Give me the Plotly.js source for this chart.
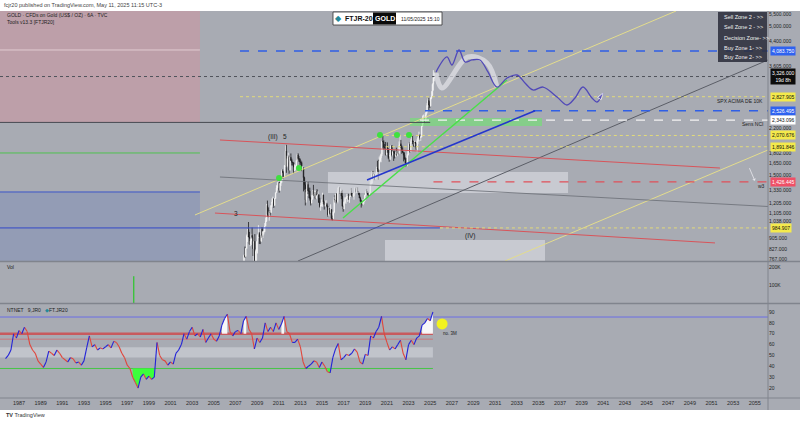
<!DOCTYPE html>
<html><head><meta charset="utf-8">
<script src="https://cdn.plot.ly/plotly-3.0.1.min.js"></script>
<style>html,body{margin:0;padding:0;background:#fff;}#chart{width:800px;height:422px;}</style>
</head><body><div id="chart"></div>
<script>
// ================= DATA =================
// Gold monthly closes / highs / lows, Jan 2006 .. May 2025
const goldFirstYear = 2006;
const goldClose = [
569,556,582,654,643,614,633,624,599,604,646,632,
650,669,662,680,659,650,666,673,743,789,783,834,
923,972,916,864,886,929,913,833,884,718,816,882,
928,942,916,884,979,927,955,955,1001,1040,1180,1096,
1081,1118,1113,1179,1213,1244,1181,1248,1307,1357,1386,1421,
1332,1410,1439,1556,1536,1500,1628,1826,1620,1722,1746,1565,
1738,1697,1669,1664,1561,1604,1614,1692,1773,1719,1713,1675,
1663,1578,1597,1476,1393,1234,1313,1396,1327,1323,1250,1202,
1240,1326,1284,1296,1250,1327,1282,1287,1210,1171,1182,1184,
1283,1213,1183,1184,1190,1172,1095,1134,1115,1142,1065,1061,
1118,1238,1233,1293,1215,1322,1351,1309,1316,1273,1173,1146,
1211,1249,1249,1268,1268,1242,1269,1322,1280,1271,1275,1303,
1345,1318,1325,1315,1299,1253,1224,1201,1192,1215,1222,1282,
1321,1313,1292,1284,1305,1409,1413,1520,1472,1513,1464,1517,
1589,1585,1577,1686,1730,1781,1975,1967,1886,1879,1776,1898,
1847,1734,1708,1769,1906,1770,1814,1813,1757,1783,1774,1829,
1796,1909,1937,1896,1837,1807,1766,1711,1660,1633,1768,1824,
1928,1827,1969,1990,1962,1919,1965,1940,1849,1983,2036,2063,
2039,2044,2230,2286,2327,2326,2447,2503,2635,2744,2643,2625,
2798,2858,3124,3288,3326];
const goldHigh = [
572,574,587,657,730,641,677,664,629,614,650,641,
655,690,670,693,693,671,684,679,745,795,848,838,
934,976,1033,954,903,940,988,920,920,937,828,884,
934,1007,952,929,983,991,961,964,1024,1070,1195,1227,
1162,1127,1137,1182,1249,1266,1245,1251,1310,1388,1424,1432,
1424,1415,1448,1576,1577,1552,1632,1913,1921,1760,1804,1764,
1764,1792,1718,1676,1666,1641,1631,1692,1788,1795,1755,1724,
1697,1680,1617,1598,1487,1424,1348,1434,1425,1361,1361,1267,
1280,1332,1392,1331,1315,1332,1345,1323,1287,1255,1208,1238,
1307,1287,1224,1224,1232,1205,1174,1170,1157,1191,1142,1088,
1123,1263,1282,1297,1304,1362,1375,1367,1352,1325,1338,1178,
1219,1264,1261,1296,1270,1296,1274,1331,1358,1306,1299,1306,
1366,1362,1356,1365,1326,1309,1266,1236,1214,1243,1237,1284,
1326,1347,1324,1310,1306,1439,1453,1555,1557,1518,1516,1525,
1611,1689,1704,1748,1765,1790,1984,2075,1992,1933,1966,1906,
1959,1871,1755,1798,1913,1916,1834,1834,1834,1814,1877,1831,
1853,1974,2070,1998,1910,1879,1814,1807,1735,1729,1786,1833,
1949,1959,2009,2049,2079,1983,1987,1949,1953,2009,2052,2135,
2088,2065,2236,2431,2450,2387,2483,2531,2685,2790,2801,2726,
2817,2956,3148,3500,3437];
const goldLow = [
517,537,535,581,637,543,605,608,573,560,609,612,
604,648,636,662,653,642,648,651,672,729,775,781,
834,880,914,863,850,858,904,786,740,681,702,745,
802,907,866,865,883,911,908,935,951,1002,1033,1076,
1073,1044,1088,1113,1165,1200,1157,1176,1243,1309,1330,1361,
1308,1326,1381,1417,1462,1478,1479,1614,1534,1603,1667,1523,
1563,1686,1627,1627,1527,1556,1564,1590,1686,1692,1672,1636,
1627,1555,1562,1321,1338,1180,1207,1272,1292,1251,1227,1180,
1202,1238,1277,1268,1240,1240,1281,1273,1205,1160,1131,1170,
1167,1191,1142,1170,1170,1162,1077,1080,1098,1112,1052,1046,
1061,1108,1208,1208,1200,1199,1310,1301,1302,1241,1171,1122,
1146,1205,1195,1242,1214,1237,1205,1266,1277,1261,1264,1236,
1302,1306,1303,1314,1282,1251,1211,1160,1180,1182,1196,1221,
1276,1304,1280,1266,1267,1300,1381,1400,1459,1459,1445,1454,
1517,1547,1451,1568,1670,1670,1757,1863,1849,1859,1764,1776,
1802,1717,1677,1705,1766,1750,1750,1688,1721,1746,1759,1753,
1780,1781,1890,1872,1787,1805,1681,1709,1615,1617,1616,1765,
1824,1805,1810,1950,1932,1893,1903,1884,1846,1810,1931,1973,
2002,1984,2039,2229,2277,2286,2318,2364,2471,2603,2536,2583,
2614,2772,2833,2970,3202];

// Oscillator (quarterly readings), starting 1985.75
const oscStartYear = 1985.75;
const oscValues = [
47,50,55,70,66,73,70,76,72,60,55,52,45,42,39,44,54,52,50,55,52,48,46,44,48,
47,43,44,41,45,57,68,58,60,55,57,56,58,60,57,63,62,58,52,48,41,38,30,25,20,
30,33,28,31,28,30,62,50,46,45,41,44,42,52,55,60,70,65,72,76,68,70,67,74,62,
66,70,65,63,68,78,84,88,72,68,72,73,70,82,86,74,70,56,66,62,66,80,72,76,72,
80,74,79,86,72,70,62,62,65,58,44,38,40,42,45,44,39,44,40,35,34,48,56,61,46,
48,51,50,52,56,53,44,42,51,50,68,66,72,76,86,70,62,55,58,56,60,64,52,46,60,
64,60,66,68,78,80,84,82,90];
const oscLevelBlue = 85.4, oscLevelRed = 70, oscLevelRedThin = 65, oscLevelGreen = 38;
const oscBand = [48, 57.5];
const oscMarkYear = [2026.1], oscMarkValue = [79];

// Volume
const volYears = [1997.6];
const volValues = [150000];

// Axis ticks
const xTickYears = [1987,1989,1991,1993,1995,1997,1999,2001,2003,2005,2007,2009,2011,2013,2015,2017,2019,2021,2023,2025,2027,2029,2031,2033,2035,2037,2039,2041,2043,2045,2047,2049,2051,2053,2055];
const priceTickValues = [5500,5000,4400,3605,2200,1802,1650,1500,1330,1205,1105,1038,905,827,767];
const priceTickText = ['5,500.000','5,000.000','4,400.000','3,605.000','2,200.000','1,802.000','1,650.000','1,500.000','1,330.000','1,205.000','1,105.000','1,038.000','905.000','827.000','767.000'];
const oscTickValues = [20,30,40,50,60,70,80,90];
const volTickValues = [100000,200000], volTickText = ['100K','200K'];

// Key price levels (labelled on the price scale)
const levelBlueDashed = [4083.75, 2526.495];
const levelBlueDashedFrom = [2007.42, 2024.52];
const levelYellowDashed = [2827.905, 2070.676, 1891.846, 984.907];
const levelYellowDashedFrom = [2007.42, 2020.9, 2020.9, 2025.9];
const levelWhiteDashed = 2343.096, levelWhiteFrom = 2024.06;
const levelRedDashed = 1426.445, levelRedFrom = 2025.3;
const lastPrice = 3326.0;
const darkLevel = 2300, darkLevelTo = 2025.0;
const blueLevel = 984.907, blueLevelTo = 2025.9;

// Drawn lines: [start year, end year] and [start price, end price]
const upperChannelYears = [2003.26, 2047.72], upperChannelPrices = [1093, 5632];
const lowerChannelYears = [2031.91, 2056.22], lowerChannelPrices = [755, 1843];
const midChannelYears = [2012.78, 2056.22], midChannelPrices = [755, 3799];
const flatGrayYears = [2005.57, 2056.22], flatGrayPrices = [1483, 1170];
const redUpperYears = [2005.57, 2051.78], redUpperPrices = [1997, 1594];
const redLowerYears = [2005.11, 2051.32], redLowerPrices = [1110, 873];
const greenTrendYears = [2016.94, 2032.10], greenTrendPrices = [1067, 3235];
const blueTrendYears = [2019.16, 2034.69], blueTrendPrices = [1448, 2526];

// Zones (year range, price range)
const pinkZoneYears = [1985.24, 2003.72], pinkZonePrices = [2300, 6000];
const blueZoneYears = [1985.24, 2003.72], blueZonePrices = [700, 1315];
const greenLineLeft = 1799, blueLineLeft = 1315, lightLineLeft = 4117;
const greenBandYears = [2023.13, 2035.33], greenBandPrices = [2235, 2383];
const grayBox1Years = [2015.55, 2037.74], grayBox1Prices = [1304, 1544];
const grayBox2Years = [2020.82, 2035.61], grayBox2Prices = [700, 894];

// Projection path & sketch
const waveYears = [2025.54,2026.55,2027.01,2027.66,2028.22,2028.86,2029.60,2030.34,2031.17,2032.10,2033.02,2033.76,2034.50,2035.43,2036.72,2037.64,2038.38,2039.12,2039.95,2040.42,2040.97];
const wavePrices = [3450,3892,3649,4117,3738,3799,3799,3450,3057,3287,3367,3158,2985,3057,2821,2646,2799,3057,2799,2710,2914];
const sketchYears = [2025.54,2026.09,2028.49,2030.25,2031.17];
const sketchPrices = [3422,3033,3892,3708,3057];
const dotYears = [2011.03, 2012.87, 2020.36, 2021.93, 2023.04];
const dotPrices = [1471, 1594, 2079, 2079, 2079];

// ================= BUILD =================
const FONT = 'Liberation Sans, Arial, sans-serif';
const X0 = 1985.24, X1 = 2056.22;
const L = Math.log10;
function seg(x, y, color, width, dash, ya, extra) {
  return Object.assign({type:'scatter', mode:'lines', x:x, y:y, line:{color:color, width:width, dash:dash||'solid'},
    hoverinfo:'skip', showlegend:false, yaxis:ya||'y', cliponaxis:true}, extra||{});
}
function box(xr, yr, fill, ya) {
  return {type:'scatter', mode:'lines', x:[xr[0],xr[1],xr[1],xr[0],xr[0]], y:[yr[0],yr[0],yr[1],yr[1],yr[0]],
    fill:'toself', fillcolor:fill, line:{width:0}, hoverinfo:'skip', showlegend:false, yaxis:ya||'y'};
}
const traces = [];
// zones
traces.push(box(pinkZoneYears, pinkZonePrices, '#bd9fa9'));
traces.push(box(blueZoneYears, blueZonePrices, 'rgba(110,130,185,0.35)'));
traces.push(seg(pinkZoneYears, [lightLineLeft, lightLineLeft], 'rgba(235,215,220,0.8)', 1));
traces.push(seg(pinkZoneYears, [greenLineLeft, greenLineLeft], '#4fc24f', 1));
traces.push(seg(pinkZoneYears, [blueLineLeft, blueLineLeft], '#3b55c8', 1));
traces.push(box(grayBox1Years, grayBox1Prices, 'rgba(222,223,228,0.6)'));
traces.push(box(grayBox2Years, grayBox2Prices, 'rgba(222,223,228,0.6)'));
traces.push(box(greenBandYears, greenBandPrices, 'rgba(110,230,110,0.6)'));
// drawn lines
traces.push(seg(upperChannelYears, upperChannelPrices, '#e3dc8c', 1));
traces.push(seg(lowerChannelYears, lowerChannelPrices, '#e3dc8c', 1));
traces.push(seg(midChannelYears, midChannelPrices, '#5b5e67', 1));
traces.push(seg(flatGrayYears, flatGrayPrices, '#6a6d75', 0.8));
traces.push(seg(redUpperYears, redUpperPrices, '#d8545a', 1));
traces.push(seg(redLowerYears, redLowerPrices, '#d8545a', 1));
// horizontal levels
traces.push(seg([X0, X1], [lastPrice, lastPrice], '#50535b', 1, 'dot'));
traces.push(seg([X0, darkLevelTo], [darkLevel, darkLevel], '#474a52', 1));
traces.push(seg([X0, blueLevelTo], [blueLevel, blueLevel], '#3347c8', 1));
levelBlueDashed.forEach((p,i)=>traces.push(seg([levelBlueDashedFrom[i], X1], [p,p], '#2f5fe6', 1.5, 'dash')));
levelYellowDashed.forEach((p,i)=>traces.push(seg([levelYellowDashedFrom[i], X1], [p,p], '#e2da7a', 1, '3px,3px')));
traces.push(seg([levelWhiteFrom, X1], [levelWhiteDashed, levelWhiteDashed], '#f4f4f4', 1.2, 'dash'));
traces.push(seg([levelRedFrom, X1], [levelRedDashed, levelRedDashed], '#e0505a', 1.2, 'dash'));
// candles
const cx=[], co=[], ch=[], cl=[], cc=[];
goldClose.forEach((c,i)=>{
  cx.push(goldFirstYear + (i+0.5)/12);
  co.push(i===0 ? c : goldClose[i-1]);
  ch.push(goldHigh[i]); cl.push(goldLow[i]); cc.push(c);
});
traces.push({type:'candlestick', x:cx, open:co, high:ch, low:cl, close:cc, yaxis:'y', showlegend:false, hoverinfo:'skip',
  whiskerwidth:0, increasing:{line:{color:'#f6f6f6', width:0.8}, fillcolor:'#f6f6f6'},
  decreasing:{line:{color:'#1d1d1f', width:0.8}, fillcolor:'#1d1d1f'}});
// trend lines
traces.push(seg(greenTrendYears, greenTrendPrices, '#49e049', 1.5));
traces.push(seg(blueTrendYears, blueTrendPrices, '#2436cc', 1.5));
// sketch + wave
traces.push(seg(sketchYears, sketchPrices, 'rgba(232,232,238,0.65)', 5, 'solid', 'y', {line:{color:'rgba(232,232,238,0.65)', width:5, shape:'spline'}}));
traces.push({type:'scatter', mode:'lines+markers', x:waveYears, y:wavePrices, yaxis:'y', showlegend:false, hoverinfo:'skip',
  line:{color:'#5149b8', width:1.3, shape:'spline'},
  marker:{symbol:'arrow', angleref:'previous', size:waveYears.map((v,i)=>i===waveYears.length-1?7:0), color:'#5149b8'}});
traces.push({type:'scatter', mode:'markers', x:dotYears, y:dotPrices, yaxis:'y', showlegend:false, hoverinfo:'skip',
  marker:{color:'#3fe03f', size:6}});

// volume
traces.push({type:'bar', x:volYears, y:volValues, yaxis:'y2', width:0.12, marker:{color:'#33c433'}, showlegend:false, hoverinfo:'skip'});

// oscillator
const ox = oscValues.map((v,i)=>oscStartYear + i*0.25);
const oscEnd = ox[ox.length-1];
traces.push(box([X0, oscEnd], oscBand, 'rgba(225,226,232,0.45)', 'y3'));
traces.push(seg([X0, X1], [oscLevelBlue, oscLevelBlue], '#6b6ee6', 1, 'solid', 'y3'));
traces.push(seg([X0, oscEnd], [oscLevelRed, oscLevelRed], '#c85a5e', 2.5, 'solid', 'y3'));
traces.push(seg([X0, oscEnd], [oscLevelRedThin, oscLevelRedThin], '#d06b6e', 0.8, 'solid', 'y3'));
traces.push(seg([X0, oscEnd], [oscLevelGreen, oscLevelGreen], '#47c447', 1, 'solid', 'y3'));
// fills for extremes
function runs(test) {
  const out=[]; let cur=null;
  oscValues.forEach((v,i)=>{ if(test(v)){ if(!cur){cur=[];} cur.push(i);} else if(cur){out.push(cur);cur=null;} });
  if(cur) out.push(cur); return out;
}
runs(v=>v>=78).forEach(r=>{
  const xs=[ox[r[0]]], ys=[oscLevelRed];
  r.forEach(i=>{xs.push(ox[i]); ys.push(oscValues[i]);});
  xs.push(ox[r[r.length-1]]); ys.push(oscLevelRed);
  traces.push({type:'scatter', mode:'lines', x:xs, y:ys, fill:'toself', fillcolor:'rgba(255,255,255,0.9)', line:{width:0}, yaxis:'y3', showlegend:false, hoverinfo:'skip'});
});
runs(v=>v<oscLevelGreen).forEach(r=>{
  const xs=[ox[r[0]]], ys=[oscLevelGreen];
  r.forEach(i=>{xs.push(ox[i]); ys.push(oscValues[i]);});
  xs.push(ox[r[r.length-1]]); ys.push(oscLevelGreen);
  traces.push({type:'scatter', mode:'lines', x:xs, y:ys, fill:'toself', fillcolor:'#3cff3c', line:{width:0}, yaxis:'y3', showlegend:false, hoverinfo:'skip'});
});
const bX=[], bY=[], rX=[], rY=[];
for (let i=1;i<oscValues.length;i++){
  const up = oscValues[i] >= oscValues[i-1];
  (up?bX:rX).push(ox[i-1], ox[i], null);
  (up?bY:rY).push(oscValues[i-1], oscValues[i], null);
}
traces.push(seg(rX, rY, '#e0463c', 1.1, 'solid', 'y3'));
traces.push(seg(bX, bY, '#2323d8', 1.1, 'solid', 'y3'));
traces.push({type:'scatter', mode:'markers', x:oscMarkYear, y:oscMarkValue, yaxis:'y3', showlegend:false, hoverinfo:'skip',
  marker:{color:'#f2f21e', size:11}});

// ================= LAYOUT =================
const W = 768, H = 387;
const px = v => v / W;            // paper x from pixel
const py = v => (398 - v) / H;    // paper y from pixel
const ann = [];
function t(x, y, text, size, color, opts) {
  ann.push(Object.assign({xref:'paper', yref:'paper', x:x, y:y, text:text, showarrow:false,
    font:{family:FONT, size:size, color:color}, xanchor:'left', yanchor:'middle'}, opts||{}));
}
t(px(2), py(5.5), 'fcjr20 published on TradingView.com, May 11, 2025 11:15 UTC-3', 5.5, '#444');
t(px(5), py(15), 'GOLD · CFDs on Gold (US$ / OZ) · 6A · TVC', 5, '#222');
t(px(5), py(21.5), 'Tools v13.3 [FTJR20]', 5, '#222');
t(px(338), py(18.5), '◆', 8, '#23899a', {xanchor:'center'});
t(px(343), py(18.5), '<b>FTJR-20</b>', 7, '#111');
t(px(384.5), py(18.5), '<b>GOLD</b>', 7, '#fff', {xanchor:'center'});
t(px(399), py(18.5), '11/05/2025 15:10', 5, '#222');
['Sell Zone 2 - >>','Sell Zone 2 - >>','Decision Zone- >>','Buy Zone 1- >>','Buy Zone 2- >>'].forEach((s,i)=>{
  t(px(722), py([17,27,38,48,57][i]), s, 5.5, '#f2f2f2');
});
t(px(5), py(267), 'Vol', 5, '#222');
t(px(5), py(310), 'NTNET&nbsp;&nbsp;&nbsp;9,JR0&nbsp;&nbsp;&nbsp;<span style="color:#23899a">◆</span>FT.JR20', 5, '#222');
t(px(4), py(415), '<b>TV</b> TradingView', 5.5, '#333');
// data-anchored labels
function dtxt(year, price, text, size, color, opts) {
  ann.push(Object.assign({xref:'x', yref:'y', x:year, y:L(price), text:text, showarrow:false,
    font:{family:FONT, size:size, color:color}}, opts||{}));
}
dtxt(2010.47, 2046, '(III)', 6.5, '#1e1e1e');
dtxt(2011.6, 2060, '5', 6.5, '#1e1e1e');
dtxt(2007.05, 1103, '3', 6.5, '#1e1e1e');
dtxt(2028.68, 923, '(IV)', 6.5, '#1e1e1e');
dtxt(2055.9, 2732, 'SPX ACIMA DE 10K', 5, '#222', {xanchor:'right'});
dtxt(2055.9, 2270, 'Sens NCI', 5, '#222', {xanchor:'right'});
dtxt(2055.6, 1375, 'w3', 5, '#222', {xanchor:'center'});
ann.push({xref:'x', yref:'y3', x:2026.8, y:70.5, text:'no. 3M', showarrow:false, font:{family:FONT, size:4.5, color:'#222'}});
ann.push({xref:'x', yref:'y', x:2055.0, y:L(1440), ax:-6, ay:-14, axref:'pixel', ayref:'pixel', showarrow:true, arrowhead:1, arrowsize:0.8, arrowwidth:0.8, arrowcolor:'#e8e8ee', text:''});
// price pills
function pill(price, text, bg, fg) {
  ann.push({xref:'paper', yref:'y', x:1.003, y:L(price), text:text, showarrow:false, xanchor:'left',
    font:{family:FONT, size:5, color:fg}, bgcolor:bg, borderpad:1});
}
pill(4083.75, '4,083.750', '#2f62f0', '#fff');
pill(lastPrice, '3,326.000<br>19d 8h', '#0c0c0c', '#fff');
pill(2827.905, '2,827.905', '#f4ea4c', '#111');
pill(2526.495, '2,526.495', '#2f62f0', '#fff');
pill(2343.096, '2,343.096', '#ffffff', '#111');
pill(2070.676, '2,070.676', '#f4ea4c', '#111');
pill(1891.846, '1,891.846', '#f4ea4c', '#111');
pill(1426.445, '1,426.445', '#ef4f66', '#fff');
pill(984.907, '984.907', '#f4ea4c', '#111');

const shapes = [
  {type:'rect', xref:'paper', yref:'paper', x0:0, x1:800/W, y0:py(410), y1:1, fillcolor:'#a8abb3', line:{width:0}, layer:'below'},
  {type:'line', xref:'paper', yref:'paper', x0:0, x1:800/W, y0:py(261.5), y1:py(261.5), line:{color:'#80848d', width:1.5}},
  {type:'line', xref:'paper', yref:'paper', x0:0, x1:800/W, y0:py(303.5), y1:py(303.5), line:{color:'#80848d', width:1.5}},
  {type:'line', xref:'paper', yref:'paper', x0:0, x1:800/W, y0:py(398), y1:py(398), line:{color:'#80848d', width:1}},
  {type:'line', xref:'paper', yref:'paper', x0:1, x1:1, y0:py(410), y1:1, line:{color:'#80848d', width:1}},
  {type:'rect', xref:'paper', yref:'paper', x0:px(718), x1:px(767), y0:py(62), y1:py(12), fillcolor:'rgba(44,47,60,0.88)', line:{width:0}},
  {type:'rect', xref:'paper', yref:'paper', x0:px(333), x1:px(442), y0:py(25), y1:py(12), fillcolor:'#ffffff', line:{color:'#333', width:0.8}},
  {type:'rect', xref:'paper', yref:'paper', x0:px(373), x1:px(396), y0:py(24.5), y1:py(12.5), fillcolor:'#0a0a0a', line:{width:0}}
];

const layout = {
  width:800, height:422, margin:{l:0, r:32, t:11, b:24},
  paper_bgcolor:'#ffffff', plot_bgcolor:'rgba(0,0,0,0)',
  font:{family:FONT, size:5, color:'#222'},
  showlegend:false, dragmode:false,
  xaxis:{range:[X0, X1], anchor:'y3', tickvals:xTickYears, ticktext:xTickYears.map(String), tickfont:{size:5.5, color:'#2a2a2a'},
    showgrid:false, zeroline:false, showline:false, ticks:'', rangeslider:{visible:false}},
  yaxis:{domain:[py(261), 1], type:'log', range:[L(755), L(5632)], side:'right', anchor:'x',
    tickvals:priceTickValues, ticktext:priceTickText, tickfont:{size:5, color:'#222'}, showgrid:false, zeroline:false, ticks:''},
  yaxis2:{domain:[py(303), py(263)], range:[0, 225000], side:'right', anchor:'x', tickvals:volTickValues, ticktext:volTickText,
    tickfont:{size:5, color:'#222'}, showgrid:false, zeroline:false, ticks:''},
  yaxis3:{domain:[0, py(304)], range:[10.8, 97.4], side:'right', anchor:'x', tickvals:oscTickValues,
    tickfont:{size:5, color:'#222'}, showgrid:false, zeroline:false, ticks:''},
  shapes:shapes, annotations:ann
};
Plotly.newPlot('chart', traces, layout, {staticPlot:true, displayModeBar:false});
</script></body></html>
